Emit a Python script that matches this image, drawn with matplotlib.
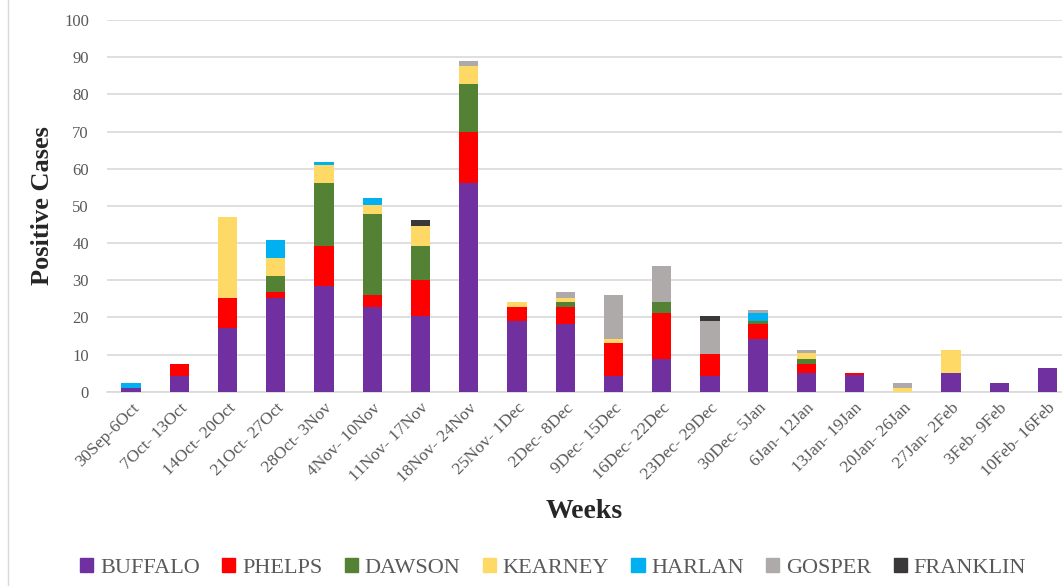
import numpy as np
import matplotlib.pyplot as plt
from matplotlib.lines import Line2D

weeks = ['30Sep-6Oct', '7Oct- 13Oct', '14Oct- 20Oct', '21Oct- 27Oct', '28Oct- 3Nov',
         '4Nov- 10Nov', '11Nov- 17Nov', '18Nov- 24Nov', '25Nov- 1Dec', '2Dec- 8Dec',
         '9Dec- 15Dec', '16Dec- 22Dec', '23Dec- 29Dec', '30Dec- 5Jan', '6Jan- 12Jan',
         '13Jan- 19Jan', '20Jan- 26Jan', '27Jan- 2Feb', '3Feb- 9Feb', '10Feb- 16Feb']

buffalo = [1.0, 4.3, 17.2, 25.2, 28.4, 22.9, 20.3, 56.1, 19.0, 18.3,
           4.2, 8.8, 4.2, 14.3, 5.0, 4.4, 0.0, 5.0, 2.4, 6.3]
phelps = [0.0, 3.1, 8.0, 1.7, 10.9, 3.1, 9.7, 13.9, 3.9, 4.6,
          9.0, 12.5, 5.9, 4.0, 2.4, 0.7, 0.0, 0.0, 0.0, 0.0]
dawson = [0.0, 0.0, 0.0, 4.2, 16.8, 21.8, 9.2, 12.9, 0.0, 1.2,
          0.0, 2.9, 0.0, 0.7, 1.5, 0.0, 0.0, 0.0, 0.0, 0.0]
kearney = [0.0, 0.0, 21.8, 5.0, 4.8, 2.4, 5.5, 4.8, 1.2, 1.1,
           1.1, 0.0, 0.0, 0.0, 1.4, 0.0, 1.1, 6.3, 0.0, 0.0]
harlan = [1.4, 0.0, 0.0, 4.7, 0.9, 1.8, 0.0, 0.0, 0.0, 0.0,
          0.0, 0.0, 0.0, 2.3, 0.0, 0.0, 0.0, 0.0, 0.0, 0.0]
gosper = [0.0, 0.0, 0.0, 0.0, 0.0, 0.0, 0.0, 1.4, 0.0, 1.5,
          11.7, 9.6, 8.9, 0.7, 0.9, 0.0, 1.3, 0.0, 0.0, 0.0]
franklin = [0.0, 0.0, 0.0, 0.0, 0.0, 0.0, 1.5, 0.0, 0.0, 0.0,
            0.0, 0.0, 1.3, 0.0, 0.0, 0.0, 0.0, 0.0, 0.0, 0.0]

counties = ['BUFFALO', 'PHELPS', 'DAWSON', 'KEARNEY', 'HARLAN', 'GOSPER', 'FRANKLIN']
series = [buffalo, phelps, dawson, kearney, harlan, gosper, franklin]
colors = ['#7030A0', '#FF0000', '#548235', '#FFD966', '#00B0F0', '#AEAAAA', '#3A3838']

plt.rcParams['font.family'] = ['Liberation Serif', 'DejaVu Serif']

fig = plt.figure(figsize=(10.62, 5.86), dpi=100)
ax = fig.add_axes([107 / 1062, 1 - 391.7 / 586, 1 - 107 / 1062, (391.7 - 20) / 586])

x = np.arange(len(weeks))
bottom = np.zeros(len(weeks))
for name, vals, c in zip(counties, series, colors):
    vals = np.array(vals)
    ax.bar(x, vals, 0.4, bottom=bottom, color=c, label=name, zorder=3)
    bottom += vals

ax.set_xlim(-0.5, 19.3)
ax.set_ylim(0, 100)
ax.set_yticks(np.arange(0, 101, 10))
ax.grid(axis='y', color='#d9d9d9', linewidth=1.2, zorder=0)
for s in ['top', 'right', 'left']:
    ax.spines[s].set_visible(False)
ax.spines['bottom'].set_color('#d9d9d9')
ax.spines['bottom'].set_linewidth(1.2)
ax.tick_params(length=0, colors='#595959', labelsize=12)
ax.tick_params(axis='y', pad=13)
ax.tick_params(axis='x', pad=6)
ax.set_xticks(x)
ax.set_xticklabels(weeks, rotation=45, ha='right', rotation_mode='anchor', fontsize=12.5)

ax.set_ylabel('Positive Cases', fontsize=19, fontweight='bold', color='#262626')
ax.yaxis.set_label_coords(-0.055, 0.5)
ax.set_xlabel('Weeks', fontsize=20, fontweight='bold', color='#262626', labelpad=10)

handles = [plt.Rectangle((0, 0), 1, 1, color=c) for c in colors]
fig.legend(handles, counties, loc='center', bbox_to_anchor=(553 / 1062, 1 - 568 / 586),
           ncol=7, frameon=False, fontsize=16, handlelength=0.6, handleheight=0.6,
           handletextpad=0.3, columnspacing=1.0, labelcolor='#595959')

fig.add_artist(Line2D([8 / 1062, 8 / 1062], [0, 1], color='#d9d9d9', linewidth=1))

fig.savefig('out.png', dpi=100)
